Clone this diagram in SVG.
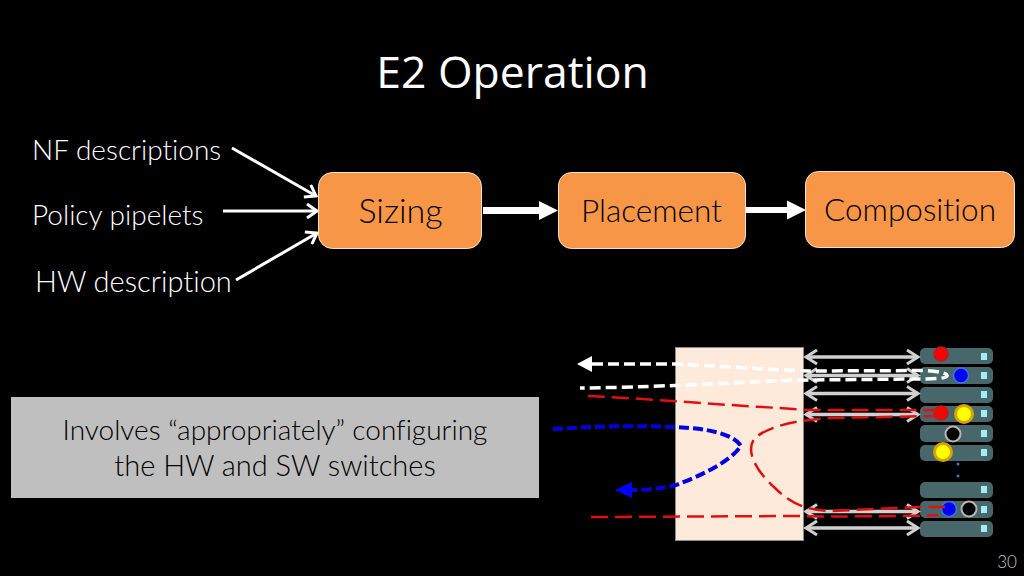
<svg xmlns="http://www.w3.org/2000/svg" width="1024" height="576" viewBox="0 0 1024 576">
<style>
text{font-family:"Lato","Liberation Sans",sans-serif;font-weight:300;font-variant-ligatures:none}
.lbl{fill:#fff;font-size:28px}
.nl{fill:#000;text-anchor:middle}
.box{fill:#f79646;stroke:#fbe3cc;stroke-width:1}
.w{stroke:#fff;fill:none;stroke-width:3}
.g{stroke:#d0d0d0;fill:none;stroke-width:3.5}
.srv{fill:#47676a}
.led{fill:#a5ecf5}
.red{fill:#f00;stroke:#b02020;stroke-width:1.5}
.blue{fill:#00f;stroke:#3a78d8;stroke-width:1.5}
.yel{fill:#ff0;stroke:#d9a400;stroke-width:3}
.blk{fill:#000;stroke:#b5b5b5;stroke-width:2}
.dr{stroke:#e01010;fill:none;stroke-width:2.5;stroke-dasharray:17 7}
.dw{stroke:#fff;fill:none;stroke-width:3.5;stroke-dasharray:11 5}
.db{stroke:#0000e0;fill:none;stroke-width:4;stroke-dasharray:10 4}
</style>
<defs>
<marker id="open" markerUnits="userSpaceOnUse" markerWidth="14" markerHeight="16" refX="12" refY="8" orient="auto"><path d="M2 1 L12 8 L2 15" fill="none" stroke="#fff" stroke-width="3"/></marker>
<marker id="gh" markerUnits="userSpaceOnUse" markerWidth="16" markerHeight="18" refX="13" refY="9" orient="auto-start-reverse"><path d="M2 2 L13 9 L2 16" fill="none" stroke="#d0d0d0" stroke-width="3"/></marker>
</defs>
<rect width="1024" height="576" fill="#000"/>
<text x="512.500" y="88" text-anchor="middle" style="font-family:'Open Sans','Liberation Sans',sans-serif;font-weight:400" font-size="44.500" fill="#fff">E2 Operation</text>
<text class="lbl" x="32" y="160">NF descriptions</text>
<text class="lbl" x="32" y="225">Policy pipelets</text>
<text class="lbl" x="35" y="292" style="font-size:29px">HW description</text>
<g id="connectors">
<path class="w" marker-end="url(#open)" d="M232 148 L316 196"/>
<path class="w" marker-end="url(#open)" d="M223 211 L317 211"/>
<path class="w" marker-end="url(#open)" d="M236 280 L317 233"/>
<path class="w" style="stroke-width:7" d="M483 210.500 L540 210.500"/>
<path d="M558 210.500 L539 201 L539 220Z" fill="#fff"/>
<path class="w" style="stroke-width:6" d="M746 210 L788 210"/>
<path d="M806 210 L787 200.500 L787 219.500Z" fill="#fff"/>
</g>
<g id="sizing"><rect class="box" x="318.500" y="172.500" width="163" height="76" rx="14"/><text class="nl" x="400.500" y="223" font-size="34">Sizing</text></g>
<g id="placement"><rect class="box" x="558.500" y="172.500" width="187" height="76" rx="13"/><text class="nl" x="651.500" y="222" font-size="31.500">Placement</text></g>
<g id="composition"><rect class="box" x="805.500" y="171.500" width="209" height="76" rx="13"/><text class="nl" x="910" y="221" font-size="31.500">Composition</text></g>
<g id="note"><rect x="11" y="397" width="528" height="101" fill="#bfbfbf"/>
<text class="nl" x="275" y="440" font-size="28">Involves “appropriately” configuring</text>
<text class="nl" x="275" y="476" font-size="29">the HW and SW switches</text></g>
<g id="switch"><rect x="675.500" y="347.500" width="128" height="193" fill="#fdeadb" stroke="#8a8a8a"/></g>
<g id="servers">
<rect class="srv" x="920" y="348" width="73" height="16" rx="5"/>
<rect class="srv" x="920" y="367" width="73" height="17" rx="5"/>
<rect class="srv" x="920" y="387" width="73" height="16" rx="5"/>
<rect class="srv" x="920" y="406" width="73" height="16" rx="5"/>
<rect class="srv" x="920" y="425" width="73" height="17" rx="5"/>
<rect class="srv" x="920" y="445" width="73" height="16" rx="5"/>
<rect class="srv" x="920" y="482" width="73" height="16" rx="5"/>
<rect class="srv" x="920" y="501" width="73" height="17" rx="5"/>
<rect class="srv" x="920" y="521" width="73" height="16" rx="5"/>
<rect class="led" x="981" y="353" width="6" height="7"/>
<rect class="led" x="981" y="372" width="6" height="7"/>
<rect class="led" x="981" y="391" width="6" height="7"/>
<rect class="led" x="981" y="410" width="6" height="7"/>
<rect class="led" x="981" y="430" width="6" height="7"/>
<rect class="led" x="981" y="449" width="6" height="7"/>
<rect class="led" x="981" y="486" width="6" height="7"/>
<rect class="led" x="981" y="506" width="6" height="7"/>
<rect class="led" x="981" y="525" width="6" height="7"/>
<circle class="red" cx="941" cy="354" r="7"/>
<circle class="blue" cx="961" cy="375.500" r="7.500"/>
<circle class="red" cx="941" cy="413" r="7"/>
<circle class="yel" cx="964" cy="414" r="8.500"/>
<circle class="blk" cx="953" cy="434" r="7.500"/>
<circle class="yel" cx="943" cy="452" r="8.500"/>
<circle class="blue" cx="949" cy="509" r="7.500"/>
<circle class="blk" cx="969" cy="509" r="7.500"/>
<circle cx="958" cy="464" r="1.500" fill="#3a78c0"/>
<circle cx="958" cy="476" r="1.500" fill="#3a78c0"/>
</g>
<g id="links">
<path class="g" marker-start="url(#gh)" marker-end="url(#gh)" d="M806 357 L918 357"/>
<path class="g" marker-start="url(#gh)" marker-end="url(#gh)" d="M806 375.500 L918 375.500"/>
<path class="g" marker-start="url(#gh)" marker-end="url(#gh)" d="M806 393.500 L918 393.500"/>
<path class="g" marker-start="url(#gh)" marker-end="url(#gh)" d="M806 414.500 L918 414.500"/>
<path class="g" marker-start="url(#gh)" marker-end="url(#gh)" d="M806 511.500 L918 511.500"/>
<path class="g" marker-start="url(#gh)" marker-end="url(#gh)" d="M806 528 L918 528"/>
</g>
<g id="paths">
<path class="dw" d="M592 364 L676 364 C720 366 770 370 810 371 L925 370.500 C937 371 948 373 947 376 C946 379 930 379 915 379 L810 380 C740 381 680 387 580 388"/>
<path d="M577 364 L592 356 L592 372Z" fill="#fff"/>
<path class="dr" d="M588 396 C640 398 720 405 780 408 L806 410 L928 410 C942 410 950 413 936 416 L830 418 C800 420 770 425 755 438 C745 450 755 470 775 488 C790 503 805 510 830 511 L920 507 L945 507"/>
<path class="dr" d="M591 517 L800 516 C840 517 880 516 938 515.500"/>
<path class="db" d="M553 429 C600 426 650 425 690 428 C715 430 735 436 741 446 C730 462 700 476 676 485 C660 489 645 490 632 490"/>
<path d="M615 490 L632 482 L632 498Z" fill="#00f"/>
</g>
<text x="1007" y="568" text-anchor="middle" font-size="17" fill="#c8c8c8">30</text>
</svg>
